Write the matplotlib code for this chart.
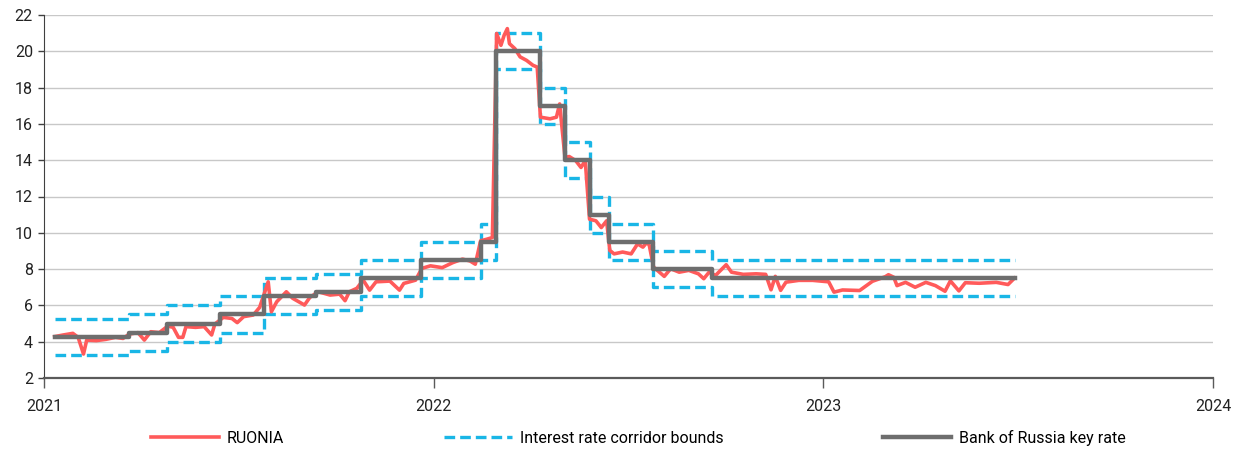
import matplotlib
matplotlib.use("Agg")
import matplotlib.pyplot as plt
import pandas as pd

# ---- data ----
key_dates = ['2021-01-11', '2021-03-22', '2021-04-26', '2021-06-15', '2021-07-26',
             '2021-09-13', '2021-10-25', '2021-12-20', '2022-02-14', '2022-02-28',
             '2022-04-11', '2022-05-04', '2022-05-27', '2022-06-14', '2022-07-25',
             '2022-09-19', '2023-06-30']
key_rate = [4.25, 4.5, 5.0, 5.5, 6.5, 6.75, 7.5, 8.5, 9.5, 20, 17, 14, 11, 9.5, 8, 7.5, 7.5]
corridor_upper = [5.25, 5.5, 6.0, 6.5, 7.5, 7.75, 8.5, 9.5, 10.5, 21, 18, 15, 12, 10.5, 9, 8.5, 8.5]
corridor_lower = [3.25, 3.5, 4.0, 4.5, 5.5, 5.75, 6.5, 7.5, 8.5, 19, 16, 13, 10, 8.5, 7, 6.5, 6.5]

ruonia_dates = [
    '2021-01-11', '2021-01-19', '2021-01-28', '2021-02-02', '2021-02-07', '2021-02-10',
    '2021-02-19', '2021-02-28', '2021-03-09', '2021-03-16', '2021-03-22', '2021-03-30',
    '2021-04-05', '2021-04-11', '2021-04-19', '2021-04-27', '2021-05-02', '2021-05-07',
    '2021-05-11', '2021-05-14', '2021-05-23', '2021-05-31', '2021-06-07', '2021-06-10',
    '2021-06-18', '2021-06-26', '2021-07-01', '2021-07-07', '2021-07-16', '2021-07-22',
    '2021-07-30', '2021-08-02', '2021-08-07', '2021-08-16', '2021-08-22', '2021-09-02',
    '2021-09-07', '2021-09-15', '2021-09-26', '2021-10-05', '2021-10-10', '2021-10-14',
    '2021-10-21', '2021-10-27', '2021-11-02', '2021-11-08', '2021-11-21', '2021-11-30',
    '2021-12-04', '2021-12-15', '2021-12-21', '2021-12-29', '2022-01-09', '2022-01-19',
    '2022-01-28', '2022-02-04', '2022-02-09', '2022-02-14', '2022-02-20', '2022-02-25',
    '2022-03-01', '2022-03-05', '2022-03-08', '2022-03-11', '2022-03-13', '2022-03-18',
    '2022-03-23', '2022-03-29', '2022-04-04', '2022-04-08', '2022-04-11', '2022-04-20',
    '2022-04-26', '2022-04-29', '2022-05-04', '2022-05-08', '2022-05-14', '2022-05-19',
    '2022-05-23', '2022-05-27', '2022-06-02', '2022-06-07', '2022-06-12', '2022-06-15',
    '2022-06-19', '2022-06-27', '2022-07-05', '2022-07-11', '2022-07-16', '2022-07-20',
    '2022-07-22', '2022-07-26', '2022-08-05', '2022-08-11', '2022-08-19', '2022-08-28',
    '2022-09-06', '2022-09-11', '2022-09-16', '2022-09-22', '2022-10-02', '2022-10-07',
    '2022-10-18', '2022-10-30', '2022-11-08', '2022-11-13', '2022-11-17', '2022-11-22',
    '2022-11-27', '2022-12-09', '2022-12-22', '2022-12-28', '2023-01-06', '2023-01-11',
    '2023-01-19', '2023-02-04', '2023-02-16', '2023-02-28', '2023-03-03', '2023-03-08',
    '2023-03-11', '2023-03-19', '2023-03-28', '2023-04-07', '2023-04-16', '2023-04-25',
    '2023-04-30', '2023-05-08', '2023-05-14', '2023-05-27', '2023-06-12', '2023-06-23',
    '2023-06-29']
ruonia = [
    4.28, 4.37, 4.46, 4.24, 3.32, 4.09,
    4.06, 4.13, 4.24, 4.18, 4.42, 4.50,
    4.09, 4.55, 4.50, 4.86, 4.79, 4.24,
    4.24, 4.83, 4.79, 4.83, 4.37, 4.97,
    5.34, 5.28, 5.05, 5.38, 5.47, 5.89,
    7.30, 5.65, 6.20, 6.75, 6.39, 6.02,
    6.44, 6.75, 6.57, 6.62, 6.26, 6.75,
    6.94, 7.39, 6.84, 7.30, 7.34, 6.84,
    7.21, 7.39, 8.04, 8.18, 8.08, 8.36,
    8.55, 8.45, 8.27, 9.56, 9.65, 9.74,
    20.98, 20.33, 20.88, 21.25, 20.42, 20.15,
    19.69, 19.50, 19.23, 19.13, 16.37, 16.28,
    16.37, 17.10, 14.16, 14.20, 13.98, 13.60,
    13.98, 10.75, 10.66, 10.29, 10.66, 9.03,
    8.84, 8.94, 8.84, 9.39, 9.21, 9.49,
    9.30, 8.11, 7.60, 8.02, 7.83, 7.93,
    7.74, 7.47, 7.83, 7.65, 8.24, 7.83,
    7.71, 7.74, 7.71, 6.86, 7.60, 6.83,
    7.28, 7.38, 7.38, 7.35, 7.30, 6.73,
    6.85, 6.82, 7.33, 7.58, 7.69, 7.55,
    7.09, 7.27, 7.00, 7.27, 7.09, 6.78,
    7.35, 6.80, 7.25, 7.22, 7.27, 7.15,
    7.50]

x_ticks = ['2021-01-01', '2022-01-01', '2023-01-01', '2024-01-01']
x_tick_labels = ['2021', '2022', '2023', '2024']
y_ticks = [2, 4, 6, 8, 10, 12, 14, 16, 18, 20, 22]

# ---- style ----
plt.rcParams['font.family'] = ['Roboto', 'DejaVu Sans']
RED = '#FF5A5A'
CYAN = '#19B6E6'
GRAY = '#6E6E6E'

fig = plt.figure(figsize=(12.4, 4.58), dpi=100)
ax = fig.add_axes([44 / 1240, 1 - 378 / 458, (1213 - 44) / 1240, (378 - 15) / 458])

kd = pd.to_datetime(key_dates)
rd = pd.to_datetime(ruonia_dates)

l1, = ax.plot(rd, ruonia, color=RED, lw=2.6, solid_joinstyle='round', zorder=3,
              label='RUONIA')
l2, = ax.plot(kd, corridor_upper, color=CYAN, lw=2.4, ls=(0, (3.2, 1.5)),
              drawstyle='steps-post', zorder=2, label='Interest rate corridor bounds')
ax.plot(kd, corridor_lower, color=CYAN, lw=2.4, ls=(0, (3.2, 1.5)),
        drawstyle='steps-post', zorder=2)
l3, = ax.plot(kd, key_rate, color=GRAY, lw=3.2, drawstyle='steps-post', zorder=4,
              label='Bank of Russia key rate')

ax.set_xlim(pd.Timestamp('2021-01-01'), pd.Timestamp('2024-01-01'))
ax.set_ylim(2, 22)
ax.set_yticks(y_ticks)
ax.set_xticks(pd.to_datetime(x_ticks))
ax.set_xticklabels(x_tick_labels)
ax.grid(axis='y', color='#C8C8C8', lw=1)
ax.set_axisbelow(True)
for s in ['top', 'right']:
    ax.spines[s].set_visible(False)
ax.spines['left'].set_color('#404040')
ax.spines['bottom'].set_color('#5A5A5A')
ax.spines['bottom'].set_linewidth(1.6)
ax.tick_params(axis='x', length=7, width=1, color='#5A5A5A', labelsize=11.5, pad=8,
               labelcolor='#222222')
ax.tick_params(axis='y', length=4, width=1, color='#404040', labelsize=11.5, pad=4,
               labelcolor='#222222')

fig.legend(handles=[l1, l2, l3], loc='center', bbox_to_anchor=(0.515, 0.044), ncol=3,
           frameon=False, fontsize=11.5, handlelength=4.25, handletextpad=0.5,
           columnspacing=10.0)

fig.savefig('out.png', dpi=100)
